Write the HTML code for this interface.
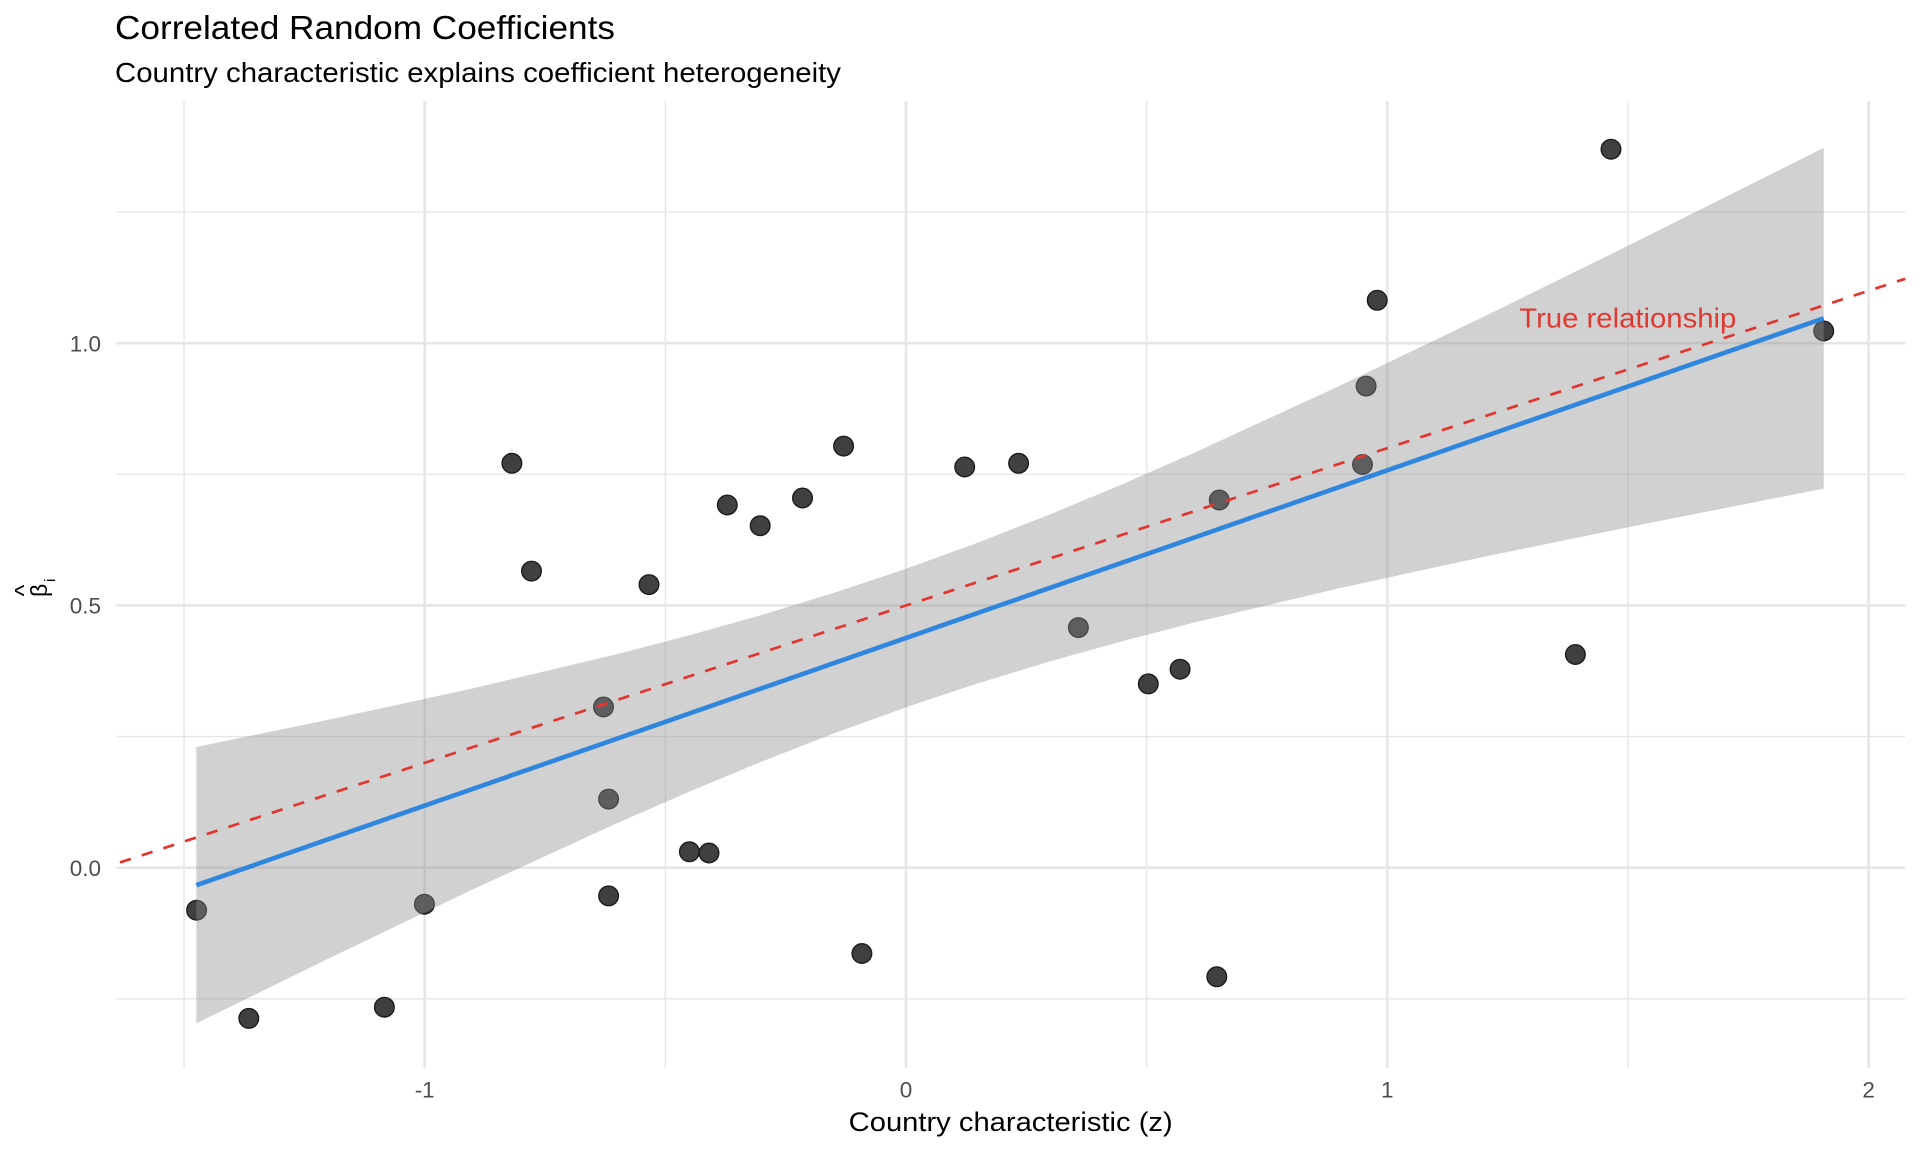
<!DOCTYPE html>
<html>
<head>
<meta charset="utf-8">
<style>
  html, body { margin: 0; padding: 0; background: #ffffff; }
  body { width: 1920px; height: 1152px; overflow: hidden; }
  svg { display: block; }
  text { font-family: "Liberation Sans", Arial, sans-serif; }
</style>
</head>
<body>
<svg width="1920" height="1152" viewBox="0 0 1920 1152" xmlns="http://www.w3.org/2000/svg">
  <rect x="0" y="0" width="1920" height="1152" fill="#ffffff"/>

  <!-- Title & subtitle -->
  <text x="115" y="39" font-size="33" fill="#000000" textLength="500" lengthAdjust="spacingAndGlyphs">Correlated Random Coefficients</text>
  <text x="115" y="82" font-size="28" fill="#000000" textLength="726" lengthAdjust="spacingAndGlyphs">Country characteristic explains coefficient heterogeneity</text>

  <!-- Minor gridlines -->
  <g stroke="#e6e6e6" stroke-width="1.4" fill="none">
    <line x1="184.05" y1="101" x2="184.05" y2="1067.7"/>
    <line x1="665.35" y1="101" x2="665.35" y2="1067.7"/>
    <line x1="1146.65" y1="101" x2="1146.65" y2="1067.7"/>
    <line x1="1627.95" y1="101" x2="1627.95" y2="1067.7"/>
    <line x1="116.2" y1="998.8" x2="1905.2" y2="998.8"/>
    <line x1="116.2" y1="736.6" x2="1905.2" y2="736.6"/>
    <line x1="116.2" y1="474.3" x2="1905.2" y2="474.3"/>
    <line x1="116.2" y1="212.1" x2="1905.2" y2="212.1"/>
  </g>
  <!-- Major gridlines -->
  <g stroke="#e6e6e6" stroke-width="2.6" fill="none">
    <line x1="424.7" y1="101" x2="424.7" y2="1067.7"/>
    <line x1="906" y1="101" x2="906" y2="1067.7"/>
    <line x1="1387.3" y1="101" x2="1387.3" y2="1067.7"/>
    <line x1="1868.6" y1="101" x2="1868.6" y2="1067.7"/>
    <line x1="116.2" y1="867.7" x2="1905.2" y2="867.7"/>
    <line x1="116.2" y1="605.45" x2="1905.2" y2="605.45"/>
    <line x1="116.2" y1="343.2" x2="1905.2" y2="343.2"/>
  </g>

  <!-- Points -->
  <g fill="#404040" stroke="#1c1c1c" stroke-width="1.4">
    <circle cx="196.6" cy="910.2" r="9.8"/>
    <circle cx="248.8" cy="1018.4" r="9.8"/>
    <circle cx="384.4" cy="1007.2" r="9.8"/>
    <circle cx="424.4" cy="904.2" r="9.8"/>
    <circle cx="511.9" cy="463.3" r="9.8"/>
    <circle cx="531.5" cy="571.1" r="9.8"/>
    <circle cx="603.5" cy="707.0" r="9.8"/>
    <circle cx="608.6" cy="799.1" r="9.8"/>
    <circle cx="608.6" cy="895.9" r="9.8"/>
    <circle cx="649.0" cy="584.6" r="9.8"/>
    <circle cx="689.4" cy="851.8" r="9.8"/>
    <circle cx="709.0" cy="853.0" r="9.8"/>
    <circle cx="727.3" cy="505.0" r="9.8"/>
    <circle cx="760.2" cy="525.7" r="9.8"/>
    <circle cx="802.5" cy="498.0" r="9.8"/>
    <circle cx="843.6" cy="446.1" r="9.8"/>
    <circle cx="861.9" cy="953.5" r="9.8"/>
    <circle cx="964.7" cy="467.0" r="9.8"/>
    <circle cx="1018.6" cy="463.3" r="9.8"/>
    <circle cx="1078.4" cy="627.6" r="9.8"/>
    <circle cx="1148.3" cy="683.9" r="9.8"/>
    <circle cx="1180.1" cy="669.2" r="9.8"/>
    <circle cx="1216.8" cy="976.8" r="9.8"/>
    <circle cx="1219.3" cy="500.0" r="9.8"/>
    <circle cx="1362.5" cy="464.5" r="9.8"/>
    <circle cx="1366.1" cy="386.1" r="9.8"/>
    <circle cx="1377.2" cy="300.3" r="9.8"/>
    <circle cx="1575.4" cy="654.5" r="9.8"/>
    <circle cx="1611.0" cy="149.2" r="9.8"/>
    <circle cx="1823.7" cy="331.0" r="9.8"/>
  </g>

  <!-- Confidence ribbon -->
  <path fill="#8c8c8c" fill-opacity="0.4" stroke="none"
    d="M196.3,747.0 L328.4,719.8 L472.8,688.4 L617.2,654.1 L689.4,635.3 L761.6,615.0 L833.8,592.9 L906,568.8 L978.2,542.5 L1050.4,514.2 L1122.6,484.1 L1194.8,452.5 L1339.2,386.0 L1483.6,316.8 L1628,245.8 L1823.7,147.9
       L1823.7,488.6 L1628,527.2 L1483.6,556.9 L1339.2,588.2 L1194.8,622.4 L1122.6,641.1 L1050.4,661.3 L978.2,683.3 L906,707.3 L833.8,733.4 L761.6,761.6 L689.4,791.6 L617.2,823.1 L472.8,889.4 L328.4,958.6 L196.3,1023.4 Z"/>

  <!-- Fitted line -->
  <line x1="196.3" y1="885.2" x2="1823.7" y2="318.3" stroke="#2E86DE" stroke-width="4.6" stroke-linecap="butt"/>

  <!-- True relationship dashed line -->
  <line x1="116.2" y1="863.7" x2="1905.2" y2="278.8" stroke="#E0362F" stroke-width="2.7" stroke-dasharray="11.4 11.4" stroke-dashoffset="18.8"/>

  <!-- Annotation -->
  <text x="1519.3" y="327.7" font-size="28" fill="#DE3A32" textLength="217" lengthAdjust="spacingAndGlyphs">True relationship</text>

  <!-- X tick labels -->
  <g font-size="22.5" fill="#4d4d4d" text-anchor="middle">
    <text x="424.7" y="1097.7">-1</text>
    <text x="906" y="1097.7">0</text>
    <text x="1387.3" y="1097.7">1</text>
    <text x="1868.6" y="1097.7">2</text>
  </g>
  <!-- Y tick labels -->
  <g font-size="22.5" fill="#4d4d4d" text-anchor="end">
    <text x="101" y="875.8">0.0</text>
    <text x="101" y="613.5">0.5</text>
    <text x="101" y="351.3">1.0</text>
  </g>

  <!-- X axis title -->
  <text x="1010.7" y="1131" font-size="27" fill="#000000" text-anchor="middle" textLength="324" lengthAdjust="spacingAndGlyphs">Country characteristic (z)</text>

  <!-- Y axis title: beta-hat subscript i, rotated -->
  <g transform="translate(47,597) rotate(-90)" fill="#000000">
    <text x="0" y="0" font-size="23">β</text>
    <text x="6.5" y="-15" font-size="25" text-anchor="middle">^</text>
    <text x="15" y="8" font-size="15">i</text>
  </g>
</svg>
</body>
</html>
